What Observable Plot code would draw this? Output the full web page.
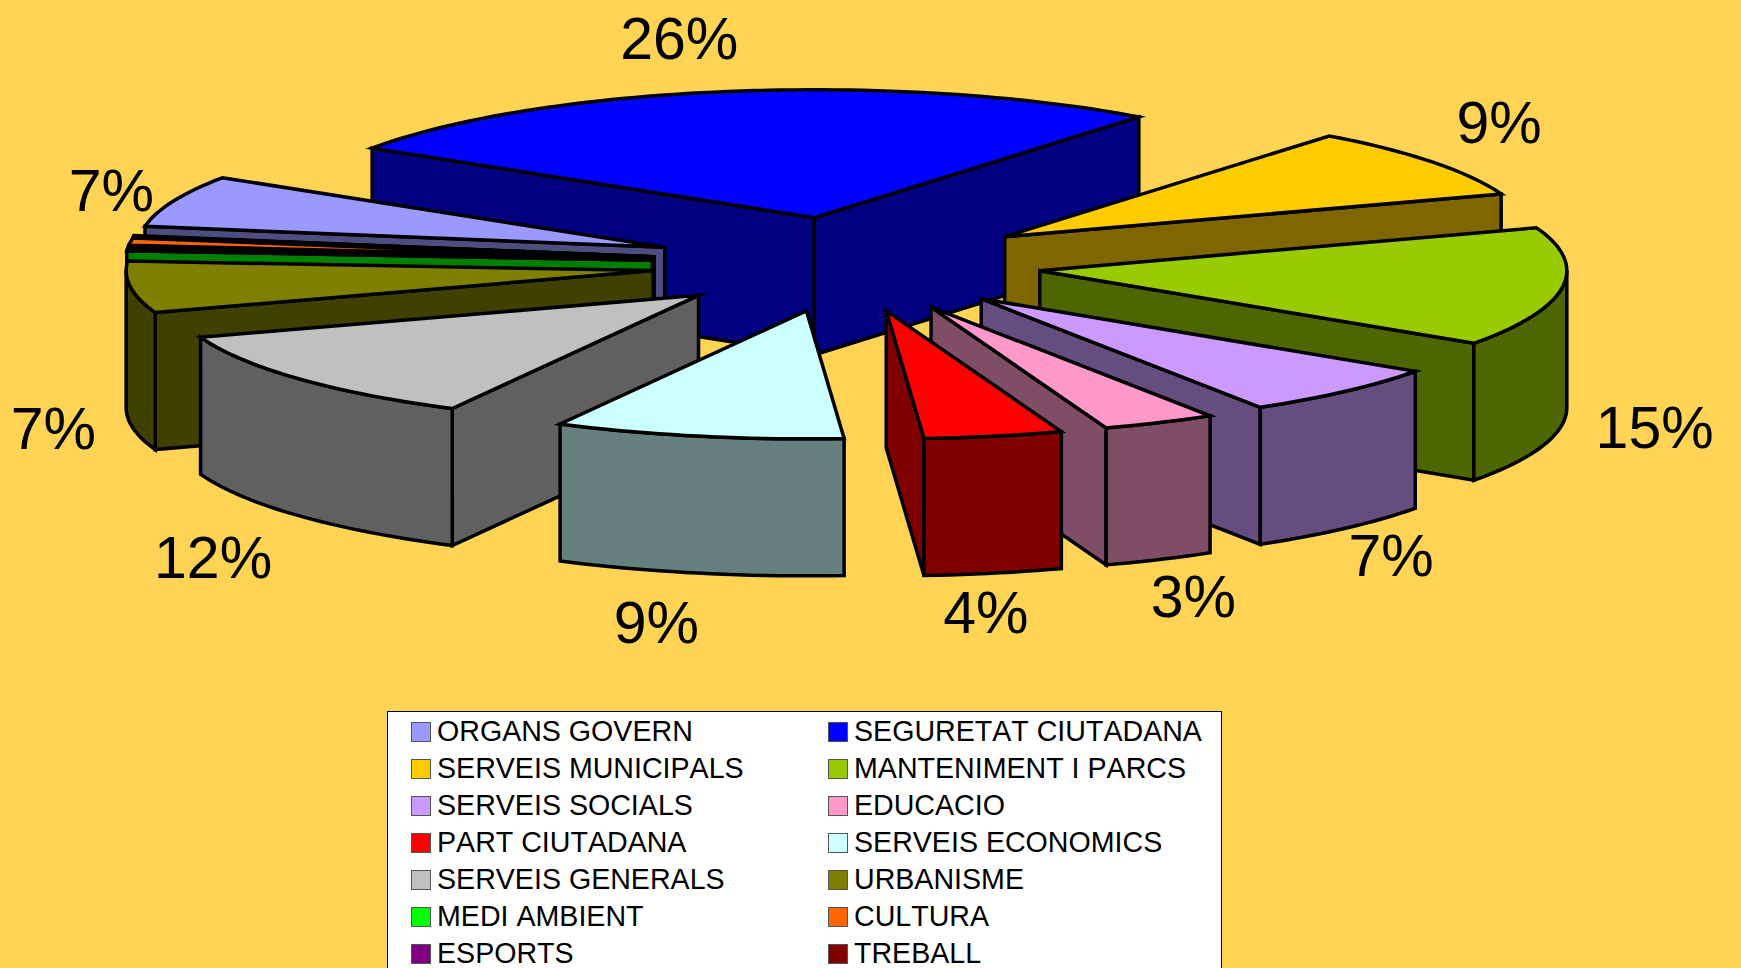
<!DOCTYPE html>
<html><head><meta charset="utf-8">
<script src="https://cdn.jsdelivr.net/npm/d3@7"></script>
<script src="https://cdn.jsdelivr.net/npm/@observablehq/plot@0.6"></script>
<style>
html,body{margin:0;padding:0;background:#FFD354;width:1741px;height:968px;overflow:hidden;font-family:"Liberation Sans",Arial,sans-serif}
svg{display:block}
#legend{box-sizing:border-box;margin-left:387px;width:835px;height:300px;background:#fff;border:1px solid #000;padding:1px 0 0 23px;display:grid;grid-template-columns:417px 1fr;grid-auto-rows:37px;font-size:28.6px;font-kerning:none;color:#000}
#legend div{display:flex;align-items:center;white-space:nowrap}
#legend i{display:block;box-sizing:border-box;width:20px;height:20px;border:1.5px solid #555;margin-right:6px}
</style></head><body>
<div id="chart"></div><div id="legend"></div>
<script>
// Chart data
const categories = ["ORGANS GOVERN","SEGURETAT CIUTADANA","SERVEIS MUNICIPALS","MANTENIMENT I PARCS","SERVEIS SOCIALS","EDUCACIO","PART CIUTADANA","SERVEIS ECONOMICS","SERVEIS GENERALS","URBANISME","MEDI AMBIENT","CULTURA","ESPORTS","TREBALL"];
const shares = [6.52,26.4,9.0,15.04,6.52,3.49,4.25,8.88,11.95,6.5,0.45,0.9,0.05,0.05];
const topColors = ["#9999FF","#0000FF","#FFCC00","#99CC00","#CC99FF","#FF99CC","#FF0000","#CCFFFF","#C0C0C0","#808000","#00FF00","#FF6600","#800080","#800000"];
const wallColors = ["#4D4D80","#000080","#806600","#4D6600","#664D80","#804D66","#800000","#668080","#606060","#404000","#008000","#803300","#400040","#400000"];
// Small hand shifts of the percentage labels, in pixels
const labelNudgeX = [17,-34,-2,8,-13,-3,-25,-24,-21,7];
const labelNudgeY = [9,-4,-10,-1,-6,-5,-6,4,12,0];

// Pie layout
const W = 1741, H = 711, cx = 846, cy = 264, rx = 527, ry = 128;
const explode = 0.37, depth = 137 / ry, startAngle = 279.5;
const rad = d => d * Math.PI / 180;
const px = a => Math.sin(rad(a)), py = a => -Math.cos(rad(a));

const total = d3.sum(shares);
let acc = startAngle;
const slices = shares.map((v, i) => {
  const a0 = acc, a1 = acc + v / total * 360; acc = a1;
  const mid = (a0 + a1) / 2;
  return {i, v, a0, a1, mid, tx: explode * px(mid), ty: explode * py(mid)};
});
function arc(s, from, to) {
  const n = Math.max(1, Math.ceil((to - from) / 1.5)), pts = [];
  for (let k = 0; k <= n; k++) {
    const a = from + (to - from) * k / n;
    pts.push([s.tx + px(a), s.ty + py(a)]);
  }
  return pts;
}
const faces = [];
function addFace(id, fill, pts) { pts.forEach(([x, y]) => faces.push({id, fill, x, y})); }
// Paint from back to front
[...slices].sort((p, q) => p.ty - q.ty).forEach(s => {
  const wall = wallColors[s.i];
  const radial = (a, key) => {
    const ex = s.tx + px(a), ey = s.ty + py(a);
    addFace(`${s.i}-${key}`, wall, [[s.tx, s.ty],[ex, ey],[ex, ey + depth],[s.tx, s.ty + depth]]);
  };
  if (Math.sin(rad(s.a0)) < 0) radial(s.a0, "start");
  if (Math.sin(rad(s.a1)) > 0) radial(s.a1, "end");
  for (const [lo, hi] of [[90,270],[450,630]]) {
    const f = Math.max(lo, s.a0), t = Math.min(hi, s.a1);
    if (t > f) {
      const top = arc(s, f, t);
      const bottom = top.map(([x, y]) => [x, y + depth]).reverse();
      addFace(`${s.i}-outer${lo}`, wall, [...top, ...bottom]);
    }
  }
  addFace(`${s.i}-top`, topColors[s.i], [[s.tx, s.ty], ...arc(s, s.a0, s.a1)]);
});
const labels = slices.filter(s => s.v >= 1).map(s => {
  const front = Math.cos(rad(s.mid)) < 0 ? depth : 0;
  const s0 = Math.sin(rad(s.mid)), c0 = Math.cos(rad(s.mid));
  return {
    text: Math.round(s.v / total * 100) + "%",
    x: s.tx + px(s.mid) + (85 * s0 + labelNudgeX[s.i]) / rx,
    y: s.ty + py(s.mid) + front + (-48 * c0 + labelNudgeY[s.i]) / ry
  };
});

const chart = Plot.plot({
  width: W, height: H, margin: 0,
  style: {background: "transparent", overflow: "visible"},
  x: {axis: null, domain: [-cx / rx, (W - cx) / rx], range: [0, W]},
  y: {axis: null, domain: [-cy / ry, (H - cy) / ry], range: [0, H]},
  color: {type: "identity"},
  marks: [
    Plot.line(faces, {x: "x", y: "y", z: "id", fill: "fill", stroke: "#000", strokeWidth: 3.5,
      curve: "linear-closed", strokeLinejoin: "miter", strokeMiterlimit: 6}),
    Plot.text(labels, {x: "x", y: "y", text: "text", fontSize: 59, fill: "#000",
      fontFamily: "Liberation Sans, Arial, sans-serif", lineAnchor: "middle"})
  ]
});
document.getElementById("chart").append(chart);

const lg = document.getElementById("legend");
categories.forEach((c, i) => {
  const d = document.createElement("div");
  const sw = document.createElement("i"); sw.style.background = topColors[i];
  d.append(sw, document.createTextNode(c));
  lg.append(d);
});
</script></body></html>
